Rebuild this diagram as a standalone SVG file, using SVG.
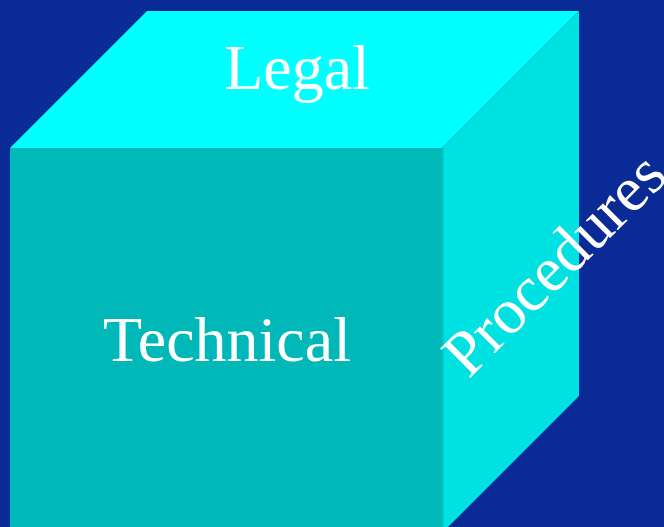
<svg xmlns="http://www.w3.org/2000/svg" width="664" height="527" viewBox="0 0 664 527">
<style>
.lbl{font-family:"Liberation Serif","Times New Roman",serif;font-size:64px;fill:#FFFFFF;text-anchor:middle}
</style>
<rect width="664" height="527" fill="#0A2B96"/>
<g id="top"><polygon points="10,148 147,11 579,11 442,148" fill="#00FFFF"/></g>
<g id="front"><rect x="10" y="148" width="432" height="390" fill="#00B8B8"/></g>
<g id="right"><polygon points="442,148 579,11 579,396 442,533" fill="#00E1E1"/>
<rect x="442" y="148" width="2" height="390" fill="#00CACA"/></g>
<g id="connectors"/>
<g id="legal"><text class="lbl" x="297" y="89">Legal</text></g>
<g id="technical"><text class="lbl" x="227" y="361">Technical</text></g>
<g id="procedures"><text class="lbl" font-size="63" transform="translate(569,279) rotate(-45)">Procedures</text></g>
</svg>
